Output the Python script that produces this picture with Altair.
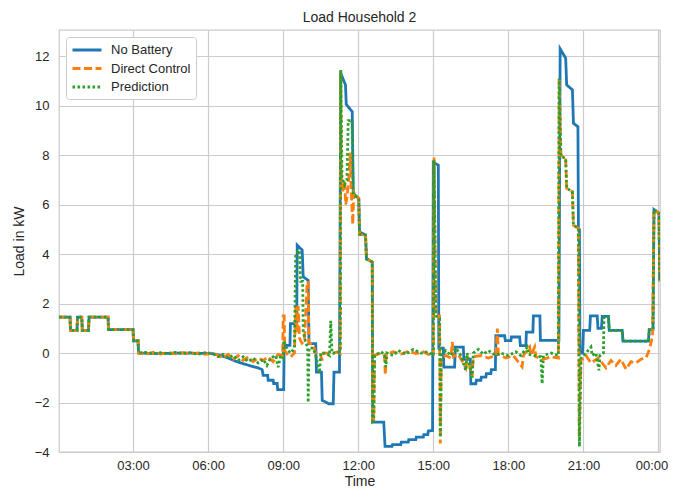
import altair as alt
import pandas as pd

SERIES = ["No Battery", "Direct Control", "Prediction"]
COLORS = ["#1f77b4", "#ff7f0e", "#2ca02c"]

# No Battery (hours, kW)
nb_t = [0.05, 0.48, 0.5, 0.76, 0.78, 0.95, 0.97, 1.22, 1.24, 2.0, 2.02, 3.0, 3.02, 3.2, 3.22,
        4.0, 5.0, 6.0, 6.2, 6.5, 6.8, 7.1, 7.4, 7.7, 8.0, 8.16, 8.2, 8.38, 8.4, 8.6, 8.62, 8.76, 8.78, 9.02,
        9.04, 9.27, 9.29, 9.54, 9.56, 9.76, 9.8, 10.0, 10.03, 10.3, 10.33, 10.53, 10.56, 10.82, 11.0,
        11.03, 11.25, 11.3, 11.49, 11.52, 11.76, 11.8, 12.02, 12.05, 12.29, 12.33, 12.56, 12.58, 13.02,
        13.07, 13.35, 13.37, 13.7, 13.72, 14.0, 14.02, 14.3, 14.32, 14.6, 14.62, 14.78, 14.8, 14.97,
        15.0, 15.2, 15.22, 15.4, 15.42, 15.85, 15.88, 16.2, 16.22, 16.48, 16.5, 16.7, 16.72, 16.9, 16.92,
        17.1, 17.12, 17.3, 17.32, 17.48, 17.5, 17.85, 17.88, 18.1, 18.12, 18.45, 18.48, 18.7, 18.72,
        18.98, 19.0, 19.26, 19.28, 20.02, 20.07, 20.29, 20.33, 20.56, 20.6, 20.78, 20.8, 20.84, 20.86,
        20.97, 21.0, 21.25, 21.28, 21.55, 21.58, 21.72, 21.75, 22.0, 22.03, 22.55, 22.58, 23.6, 23.63,
        23.78, 23.82, 24.02, 24.05]
nb_v = [1.45, 1.45, 0.92, 0.92, 1.45, 1.45, 0.92, 0.92, 1.45, 1.45, 0.95, 0.95, 0.49, 0.49, 0.0,
        -0.02, 0.0, -0.02, -0.03, -0.1, -0.2, -0.33, -0.43, -0.52, -0.6, -0.67, -0.9, -0.9, -1.1, -1.1, -1.23, -1.23, -1.48, -1.48,
        0.31, 0.31, 1.19, 1.19, 4.36, 4.16, 3.08, 2.94, 0.38, 0.38, -0.77, -0.77, -1.91, -2.05, -2.05,
        -0.77, -0.77, 11.31, 10.84, 10.05, 9.76, 6.45, 6.25, 4.9, 4.77, 3.82, 3.68, -2.79, -2.79,
        -3.77, -3.77, -3.7, -3.7, -3.6, -3.6, -3.5, -3.5, -3.4, -3.4, -3.3, -3.3, -3.15, -3.13,
        7.7, 7.6, 0.2, 0.2, -0.57, -0.57, 0.24, 0.24, -0.25, -0.25, -1.24, -1.24, -1.1, -1.1, -0.97,
        -0.97, -0.83, -0.83, -0.67, -0.67, 0.7, 0.7, 0.5, 0.5, 0.65, 0.65, 0.3, 0.3, 0.85,
        0.85, 1.5, 1.5, 0.51, 0.51, 12.3, 11.92, 10.84, 10.64, 9.29, 9.15, 5.04, 5.0, 0.0,
        0.0, 0.92, 0.92, 1.5, 1.5, 1.0, 1.0, 1.48, 1.48, 0.92, 0.92, 0.48, 0.48, 0.95,
        0.95, 5.8, 5.65, 2.9]

# Direct Control (hours, kW)
dc_t = [0.05, 0.48, 0.5, 0.76, 0.78, 0.95, 0.97, 1.22, 1.24, 2.0, 2.02, 3.0, 3.02, 3.2, 3.22,
        3.5, 3.8, 4.1, 4.4, 4.7, 5.0, 5.3, 5.6, 5.9, 6.2,
        6.4, 6.6, 6.8, 7.0, 7.2, 7.4, 7.6, 7.8, 8.0, 8.2, 8.4, 8.6, 8.8, 8.98,
        9.0, 9.04, 9.06, 9.2, 9.3, 9.45, 9.5, 9.55, 9.6, 9.65, 9.75, 9.85, 9.95, 10.0, 10.03, 10.2,
        10.3, 10.5, 10.55, 10.6, 11.0, 11.2, 11.28,
        11.3, 11.33, 11.4, 11.45, 11.5, 11.55, 11.62, 11.68, 11.72, 11.78, 11.82, 12.02, 12.05, 12.29,
        12.33, 12.56, 12.57, 12.62, 12.65,
        12.9, 13.05, 13.08, 13.12, 13.4, 13.7, 14.0, 14.3, 14.6, 14.9, 15.0, 15.03, 15.1, 15.25, 15.28, 15.32,
        15.5, 15.7, 15.76, 15.8, 16.0, 16.3, 16.35, 16.55, 16.6, 16.9, 17.2, 17.5, 17.56, 17.6, 17.9, 18.2,
        18.55, 18.6, 18.85, 18.9, 19.05, 19.1, 19.4, 19.7, 20.0,
        20.03, 20.1, 20.29, 20.33, 20.56, 20.6, 20.8, 20.83, 20.9, 21.1, 21.3, 21.6, 21.9, 22.1, 22.3,
        22.5, 22.7, 22.9, 23.1, 23.3, 23.5, 23.62, 23.76, 23.82, 24.02, 24.05]
dc_v = [1.45, 1.45, 0.92, 0.92, 1.45, 1.45, 0.92, 0.92, 1.45, 1.45, 0.95, 0.95, 0.49, 0.49, 0.0,
        -0.05, 0.03, -0.04, 0.02, -0.03, 0.02, -0.04, 0.01, -0.05, 0.0,
        -0.1, -0.2, -0.05, -0.25, -0.1, -0.3, -0.15, -0.35, -0.2, -0.3, -0.15, -0.35, -0.05, -0.1,
        1.5, 1.5, 0.1, -0.1, -0.15, 0.0, 1.9, 0.8, 1.9, 0.6, 0.4, 0.5, 2.7, 2.9, 0.4, 0.35,
        0.0, -0.1, -0.3, 0.0, 0.0, 0.05, 0.0,
        11.4, 7.0, 6.5, 7.0, 6.0, 6.3, 7.0, 8.1, 6.5, 5.2, 6.5, 6.25, 4.8, 4.77,
        3.8, 3.68, -2.75, -2.7, -0.1,
        0.0, -0.1, -0.9, -0.05, 0.05, -0.05, 0.08, -0.02, 0.05, -0.1, -0.05, 7.9, 1.5, 1.5, -3.66, -0.2,
        -0.1, -0.2, 0.45, -0.15, -0.05, -0.6, -0.1, -0.95, -0.15, -0.1, -0.2, -0.1, 0.99, -0.05, -0.2, -0.1,
        -0.55, -0.1, 0.24, -0.1, 0.24, -0.15, -0.25, -0.15, -0.2,
        11.1, 8.0, 7.87, 6.66, 6.52, 5.17, 5.04, -3.4, -0.3, -0.1, -0.4, -0.2, -0.6, -0.3, -0.5,
        -0.25, -0.65, -0.35, -0.4, -0.25, -0.2, 0.1, 0.65, 5.8, 5.65, 2.9]

# Prediction (hours, kW)
pr_t = [0.05, 0.48, 0.5, 0.76, 0.78, 0.95, 0.97, 1.22, 1.24, 2.0, 2.02, 3.0, 3.02, 3.2, 3.22,
        3.5, 3.8, 4.1, 4.4, 4.7, 5.0, 5.3, 5.6, 5.9, 6.2,
        6.4, 6.6, 6.8, 7.0, 7.2, 7.4, 7.6, 7.8, 8.0, 8.2, 8.35, 8.5, 8.7, 8.8, 8.9, 9.0,
        9.02, 9.1, 9.2, 9.3, 9.45, 9.5, 9.65, 9.7, 9.78, 9.8, 9.9, 9.98, 10.0, 10.03, 10.2, 10.3, 10.45,
        10.5, 10.7, 10.85, 10.9, 10.95, 11.1, 11.28,
        11.3, 11.35, 11.45, 11.55, 11.6, 11.75, 11.8, 12.02, 12.05, 12.29, 12.33, 12.56, 12.57, 12.62, 12.65,
        12.9, 13.05, 13.1, 13.15, 13.4, 13.6, 13.9, 14.2, 14.5, 14.8, 15.0, 15.03, 15.1, 15.25, 15.28, 15.32,
        15.5, 15.7, 15.9, 16.1, 16.3, 16.35, 16.55, 16.6, 16.8, 17.0, 17.2, 17.5, 17.7, 18.0, 18.3, 18.5,
        18.75, 18.8, 19.0, 19.3, 19.35, 19.4, 19.7, 20.0,
        20.03, 20.1, 20.29, 20.33, 20.56, 20.6, 20.8, 20.84, 20.9, 21.1, 21.3, 21.35, 21.5, 21.62, 21.66,
        21.8, 21.82, 22.0, 22.03, 22.55, 22.58, 23.6, 23.63, 23.78, 23.82, 24.02, 24.05]
pr_v = [1.45, 1.45, 0.92, 0.92, 1.45, 1.45, 0.92, 0.92, 1.45, 1.45, 0.95, 0.95, 0.49, 0.49, 0.0,
        0.03, -0.03, 0.02, -0.04, 0.03, -0.02, 0.02, -0.05, 0.02, -0.03,
        -0.15, -0.05, -0.2, -0.1, -0.3, -0.15, -0.35, -0.2, -0.4, -0.25, -0.5, -0.2, -0.1, -0.57, -0.1, -0.2,
        0.5, 0.3, 0.1, 0.0, 0.2, 4.0, 4.16, 2.9, 2.9, 0.9, 0.4, 0.24, -2.0, 0.2, 0.2, -0.1, -0.8,
        0.0, 0.0, -0.1, 1.3, 0.0, 0.0, 0.05,
        11.45, 7.1, 6.8, 7.0, 9.4, 9.4, 6.4, 6.25, 4.8, 4.77, 3.8, 3.68, -2.75, -2.7, -0.1,
        0.05, -0.05, -0.57, 0.0, -0.1, 0.1, -0.05, 0.15, 0.0, 0.05, -0.1, 7.8, 1.5, 1.4, -3.4, -0.1,
        0.1, -0.1, 0.2, -0.1, -0.7, 0.0, -1.0, 0.0, 0.15, -0.05, 0.1, -0.1, 0.0, -0.1, 0.05, -0.1,
        0.24, -0.05, -0.1, -0.15, -1.24, -0.1, 0.0, -0.1,
        11.1, 7.95, 7.87, 6.66, 6.52, 5.17, 5.04, -3.78, -0.2, 0.0, 0.24, -0.1, 0.0, -0.7, -0.1,
        0.0, 1.46, 1.46, 0.92, 0.92, 0.48, 0.48, 0.95, 0.95, 5.8, 5.65, 2.9]

X_TICKS = [3, 6, 9, 12, 15, 18, 21, 24]
Y_TICKS = [-4, -2, 0, 2, 4, 6, 8, 10, 12]

rows = []
for name, ts, vs in zip(SERIES, [nb_t, dc_t, pr_t], [nb_v, dc_v, pr_v]):
    for i, (t, v) in enumerate(zip(ts, vs)):
        rows.append({"series": name, "t": t, "v": v, "i": i})
df = pd.DataFrame(rows)

FONT = "Liberation Sans"
TXT = "#262626"
LW = 2.8

color_scale = alt.Scale(domain=SERIES, range=COLORS)
dash_scale = alt.Scale(domain=SERIES, range=[[1, 0], [8, 3.5], [2.6, 2.4]])
legend = alt.Legend(title=None, orient="top-left", offset=7, fillColor="white",
                    strokeColor="#cccccc", cornerRadius=3, padding=5,
                    symbolType="M-2.23,0H2.23", symbolSize=169, symbolStrokeWidth=LW,
                    symbolOffset=8,
                    labelFontSize=13, labelFont=FONT, labelColor=TXT,
                    rowPadding=3.5, labelOffset=16)

def layer(name):
    return alt.Chart(df).transform_filter(alt.datum.series == name).mark_line(
        strokeWidth=LW, clip=True
    ).encode(
        x=alt.X("t:Q", scale=alt.Scale(domain=[0.04, 24.06], nice=False, zero=False),
                axis=alt.Axis(values=X_TICKS, title="Time", labelPadding=7,
                              titleY=33, titleBaseline="alphabetic",
                              labelOffset={"condition": {"test": "datum.value == 24", "value": -7}, "value": 0},
                              labelExpr="(datum.value % 24 < 10 ? '0' : '') + (datum.value % 24) + ':00'")),
        y=alt.Y("v:Q", scale=alt.Scale(domain=[-4.0, 13.06], nice=False, zero=False),
                axis=alt.Axis(values=Y_TICKS, title="Load in kW", labelPadding=10, titlePadding=8)),
        color=alt.Color("series:N", scale=color_scale, legend=legend),
        strokeDash=alt.StrokeDash("series:N", scale=dash_scale, legend=legend),
        order="i:Q",
    )

chart = alt.layer(*[layer(n) for n in SERIES]).properties(
    width=601, height=422,
    title=alt.TitleParams("Load Household 2", fontSize=14, fontWeight="normal", font=FONT,
                          color=TXT, offset=5, anchor="middle"),
    autosize=alt.AutoSizeParams(type="none"),
    padding={"left": 51, "top": 22, "right": 10, "bottom": 35},
).configure_view(
    stroke="#cccccc", strokeWidth=1.3
).configure_axis(
    domain=False, ticks=False, grid=True, gridColor="#cccccc", gridWidth=1.2,
    labelFont=FONT, labelFontSize=13, labelColor=TXT,
    titleFont=FONT, titleFontSize=14, titleFontWeight="normal", titleColor=TXT,
)

chart.save("out.html", embed_options={"renderer": "svg", "actions": False})
